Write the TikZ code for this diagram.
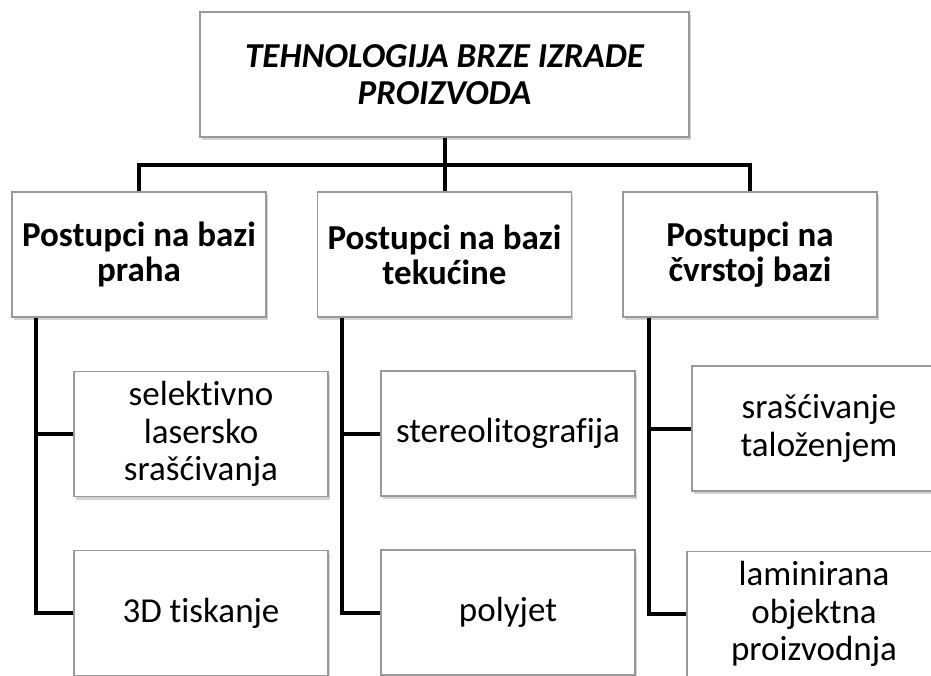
\documentclass[tikz,border=0pt]{standalone}
\usepackage{fontspec}
\setmainfont{Carlito}[Ligatures = NoCommon]
\usetikzlibrary{shadows}
\usetikzlibrary{calc}

\begin{document}
\begin{tikzpicture}[x = 1pt, y = -1pt]
	\tikzstyle{boxStyle} = [shape = rectangle, draw = black!40, line width = 1.2pt, fill = white, align = center, inner sep = 0pt, minimum height = 125pt, minimum width = 254pt, drop shadow = {shadow xshift = 1.5pt, shadow yshift = -3pt, fill = black!35, opacity = 0.5}, font = \fontsize{35}{37.5}\selectfont]
	\tikzstyle{titleStyle} = [boxStyle, minimum width = 489pt, font = \fontsize{35}{37}\selectfont\bfseries\itshape]
	\tikzstyle{groupStyle} = [boxStyle, font = \fontsize{35}{35}\selectfont\bfseries]
	\tikzstyle{leafStyle} = [boxStyle]
	\tikzstyle{edgeStyle} = [draw = black, line width = 4pt]
	\clip (0, 0) rectangle (931, 675);
	\node[titleStyle] (top) at (444.5, 74.5) {TEHNOLOGIJA BRZE IZRADE\\PROIZVODA};
	\node[groupStyle] (g1) at (139, 254.5) {Postupci na bazi\\praha};
	\node[groupStyle] (g2) at (444.5, 254.5) {Postupci na bazi\\tekućine};
	\node[groupStyle] (g3) at (750, 254.5) {Postupci na\\čvrstoj bazi};
	\node[leafStyle] (c11) at (201, 434) {selektivno\\lasersko\\srašćivanja};
	\node[leafStyle] (c12) at (201, 613) {3D tiskanje};
	\node[leafStyle] (c21) at (508, 433.5) {stereolitografija};
	\node[leafStyle] (c22) at (508, 612.5) {polyjet};
	\node[leafStyle] (c31) at (819, 428.5) {srašćivanje\\taloženjem};
	\node[leafStyle] (c32) at (814, 614) {laminirana\\objektna\\proizvodnja};
	\coordinate (bus) at (444.5, 165);
	\coordinate (t1) at ($(g1.south west) + (25, 0)$);
	\coordinate (t2) at ($(g2.south west) + (25, 0)$);
	\coordinate (t3) at ($(g3.south west) + (27, 0)$);
	\draw[edgeStyle] (top.south) -- (g2.north);
	\draw[edgeStyle] (g1.north) |- (bus) -| (g3.north);
	\draw[edgeStyle] (t1) |- (c11.west);
	\draw[edgeStyle] (t1) |- (c12.west);
	\draw[edgeStyle] (t2) |- (c21.west);
	\draw[edgeStyle] (t2) |- (c22.west);
	\draw[edgeStyle] (t3) |- (c31.west);
	\draw[edgeStyle] (t3) |- (c32.west);
\end{tikzpicture}
\end{document}
